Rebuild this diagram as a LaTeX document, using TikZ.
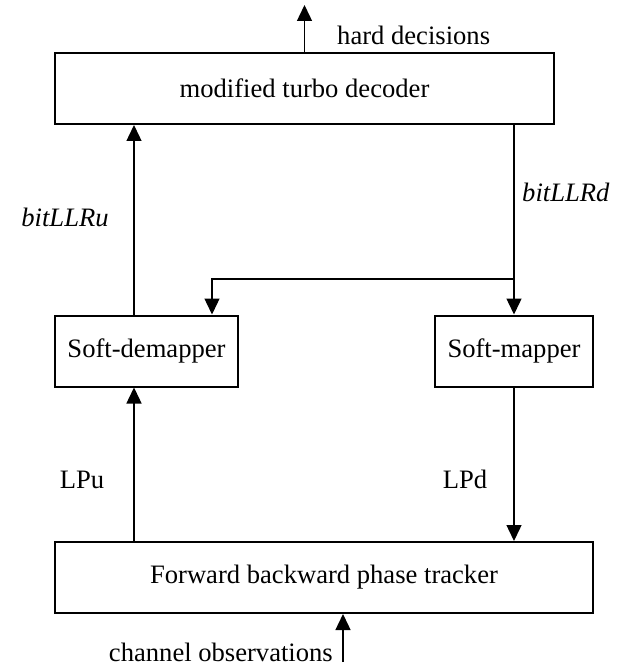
\documentclass[tikz,border=0pt]{standalone}
\usepackage{fontspec}
\setmainfont{Liberation Serif}
\usetikzlibrary{arrows.meta}
\begin{document}
\begin{tikzpicture}[x=1pt,y=-1pt,
  font=\fontsize{26.6}{32}\selectfont,
  block/.style={draw,line width=2pt,rectangle,minimum height=71pt,inner sep=0pt},
  arr/.style={line width=1.4pt,-{Triangle[length=16pt,width=15pt]}},
  lbl/.style={inner sep=0pt,anchor=base}]
\useasboundingbox (0,0) rectangle (625,668);

% blocks
\node[block,minimum width=499pt] (dec) at (304.5,88.5) {modified turbo decoder};
\node[block,minimum width=183pt] (dem) at (146.5,351) {Soft-demapper};
\node[block,minimum width=158pt] (map) at (514,351) {Soft-mapper};
\node[block,minimum width=538pt] (fb)  at (324,577.5) {Forward backward phase tracker};

% helper points
\coordinate (xu) at (134,0);
\coordinate (xb) at (212,0);
\coordinate (j)  at (514,279);
\coordinate (hd) at (304.5,5);
\coordinate (ch) at (343,662);

% connectors
\draw[arr] (dec.north) -- (hd);
\draw[arr] (dem.north -| xu) -- (dec.south -| xu);
\draw[arr] (dec.south -| map.north) -- (map.north);
\draw[arr] (j) -| (dem.north -| xb);
\draw[arr] (fb.north -| xu) -- (dem.south -| xu);
\draw[arr] (map.south) -- (map.south |- fb.north);
\draw[arr] (ch) -- (ch |- fb.south);

% labels
\node[lbl,anchor=base west] (lhd) at (337,45) {hard decisions};
\node[lbl] (lu) at (65,226) {\itshape bitLLRu};
\node[lbl,anchor=base west] (ld) at (522,202) {\itshape bitLLRd};
\node[lbl] (lpu) at (82,488) {LPu};
\node[lbl] (lpd) at (465,488) {LPd};
\node[lbl,anchor=base east] (lch) at (333,661) {channel observations};
\end{tikzpicture}
\end{document}
